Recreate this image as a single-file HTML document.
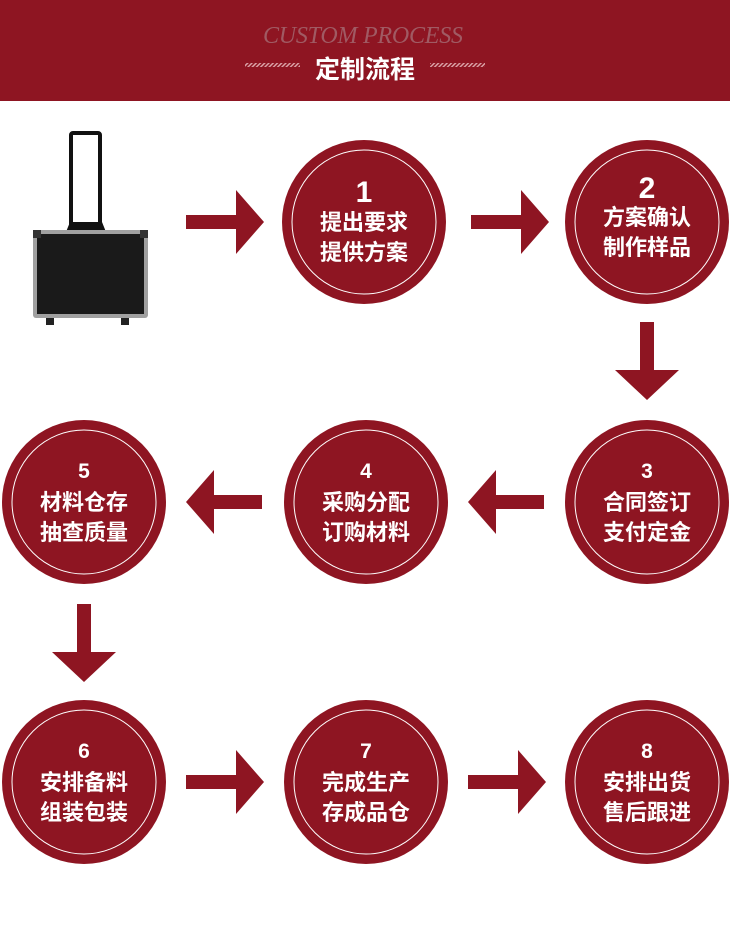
<!DOCTYPE html>
<html><head><meta charset="utf-8"><style>
html,body{margin:0;padding:0;background:#fff;}
body{width:730px;height:945px;overflow:hidden;}
text{font-family:"Liberation Sans","Noto Sans CJK SC",sans-serif;}
</style></head><body>
<svg width="730" height="945" viewBox="0 0 730 945" xmlns="http://www.w3.org/2000/svg">
<defs>
<pattern id="hatch" width="3" height="3" patternUnits="userSpaceOnUse" patternTransform="rotate(45)">
<rect width="1.5" height="3" fill="#d9a0a5"/></pattern>
</defs>
<rect x="0" y="0" width="730" height="101" fill="#8e1522"/>
<text x="363" y="43" text-anchor="middle" font-style="italic" font-size="24" fill="#a05a63" style="font-family:'Liberation Serif',serif" textLength="200">CUSTOM PROCESS</text>
<rect x="245" y="63" width="55" height="4" fill="url(#hatch)"/>
<rect x="430" y="63" width="55" height="4" fill="url(#hatch)"/>
<text x="365" y="78" text-anchor="middle" font-size="25" font-weight="bold" fill="#fff">定制流程</text>

<!-- suitcase -->
<g>
<rect x="71" y="133" width="29" height="95" rx="2" fill="none" stroke="#111" stroke-width="4"/>
<path d="M70 222h32l4 10h-40z" fill="#111"/>
<rect x="33" y="230" width="115" height="88" rx="3" fill="#a0a0a0"/>
<rect x="37" y="234" width="107" height="80" fill="#1a1a1a"/>
<rect x="33" y="230" width="8" height="8" fill="#333"/>
<rect x="140" y="230" width="8" height="8" fill="#333"/>
<rect x="46" y="318" width="8" height="7" fill="#222"/>
<rect x="121" y="318" width="8" height="7" fill="#222"/>
</g>

<g fill="#8e1522">
<path d="M186 215h50v-25l28 32-28 32v-25h-50z"/>
<path d="M471 215h50v-25l28 32-28 32v-25h-50z"/>
<path d="M186 775h50v-25l28 32-28 32v-25h-50z"/>
<path d="M468 775h50v-25l28 32-28 32v-25h-50z"/>
<path d="M262 495h-48v-25l-28 32 28 32v-25h48z"/>
<path d="M544 495h-48v-25l-28 32 28 32v-25h48z"/>
<path d="M640 322h14v48h25l-32 30-32-30h25z"/>
<path d="M77 604h14v48h25l-32 30-32-30h25z"/>
</g>

<g fill="#8e1522" stroke="none">
<circle cx="364" cy="222" r="82"/>
<circle cx="647" cy="222" r="82"/>
<circle cx="647" cy="502" r="82"/>
<circle cx="366" cy="502" r="82"/>
<circle cx="84" cy="502" r="82"/>
<circle cx="84" cy="782" r="82"/>
<circle cx="366" cy="782" r="82"/>
<circle cx="647" cy="782" r="82"/>
</g>
<g fill="none" stroke="#fff" stroke-width="1">
<circle cx="364" cy="222" r="72"/>
<circle cx="647" cy="222" r="72"/>
<circle cx="647" cy="502" r="72"/>
<circle cx="366" cy="502" r="72"/>
<circle cx="84" cy="502" r="72"/>
<circle cx="84" cy="782" r="72"/>
<circle cx="366" cy="782" r="72"/>
<circle cx="647" cy="782" r="72"/>
</g>
<g fill="#fff" font-weight="bold" text-anchor="middle">
<text x="364" y="202" font-size="30">1</text>
<text x="364" y="230" font-size="22">提出要求</text>
<text x="364" y="260" font-size="22">提供方案</text>
<text x="647" y="198" font-size="30">2</text>
<text x="647" y="225" font-size="22">方案确认</text>
<text x="647" y="255" font-size="22">制作样品</text>
<text x="647" y="478" font-size="21">3</text>
<text x="647" y="510" font-size="22">合同签订</text>
<text x="647" y="540" font-size="22">支付定金</text>
<text x="366" y="478" font-size="21">4</text>
<text x="366" y="510" font-size="22">采购分配</text>
<text x="366" y="540" font-size="22">订购材料</text>
<text x="84" y="478" font-size="21">5</text>
<text x="84" y="510" font-size="22">材料仓存</text>
<text x="84" y="540" font-size="22">抽查质量</text>
<text x="84" y="758" font-size="21">6</text>
<text x="84" y="790" font-size="22">安排备料</text>
<text x="84" y="820" font-size="22">组装包装</text>
<text x="366" y="758" font-size="21">7</text>
<text x="366" y="790" font-size="22">完成生产</text>
<text x="366" y="820" font-size="22">存成品仓</text>
<text x="647" y="758" font-size="21">8</text>
<text x="647" y="790" font-size="22">安排出货</text>
<text x="647" y="820" font-size="22">售后跟进</text>
</g>
</svg>
</body></html>
